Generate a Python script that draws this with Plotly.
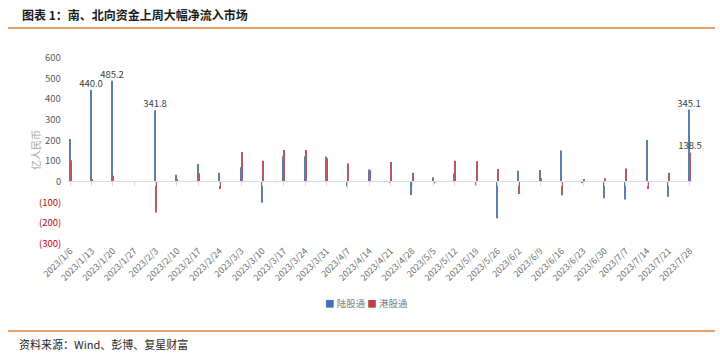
import plotly.graph_objects as go

categories = ["2023/1/6", "2023/1/13", "2023/1/20", "2023/1/27", "2023/2/3", "2023/2/10",
              "2023/2/17", "2023/2/24", "2023/3/3", "2023/3/10", "2023/3/17", "2023/3/24",
              "2023/3/31", "2023/4/7", "2023/4/14", "2023/4/21", "2023/4/28", "2023/5/5",
              "2023/5/12", "2023/5/19", "2023/5/26", "2023/6/2", "2023/6/9", "2023/6/16",
              "2023/6/23", "2023/6/30", "2023/7/7", "2023/7/14", "2023/7/21", "2023/7/28"]
northbound = [203, 440.0, 485.2, 0, 341.8, 30, 82, 40, 66, -105, 120, 120,
              118, -27, 56, -5, -68, 18, 37, -20, -180, 50, 53, 147,
              -8, -84, -90, 198, -76, 345.1]
southbound = [101, 5, 26, -3, -152, 8, 37, -39, 140, 98, 150, 150,
              110, 85, 52, 92, 40, -8, 98, 95, 58, -63, 15, -69,
              5, 13, 61, -39, 40, 138.5]
labeled_north = {"2023/1/13", "2023/1/20", "2023/2/3", "2023/7/28"}
labeled_south = {"2023/7/28"}
ytick_vals = [600, 500, 400, 300, 200, 100, 0, -100, -200, -300]
series_names = ["陆股通", "港股通"]

FONT = "Noto Sans CJK SC"
BLUE = "#5a7fa8"
RED = "#b45a62"
LEG_BLUE = "#3f6fb5"
LEG_RED = "#b8404a"

north_text = [f"{v:.1f}" if c in labeled_north else "" for c, v in zip(categories, northbound)]
south_text = [f"{v:.1f}" if c in labeled_south else "" for c, v in zip(categories, southbound)]

fig = go.Figure()
fig.add_trace(go.Bar(x=categories, y=northbound, name=series_names[0], marker_color=BLUE,
                     marker_line_width=0, text=north_text, textposition="outside",
                     textfont=dict(size=9.5, color="#404040", family=FONT),
                     cliponaxis=False, constraintext="none", showlegend=False))
fig.add_trace(go.Bar(x=categories, y=southbound, name=series_names[1], marker_color=RED,
                     marker_line_width=0, text=south_text, textposition="outside",
                     textfont=dict(size=9.5, color="#404040", family=FONT),
                     cliponaxis=False, constraintext="none", showlegend=False))
# invisible trace on the zero-line axis (tick marks)
fig.add_trace(go.Scatter(x=categories, y=[None] * len(categories), xaxis="x2",
                         showlegend=False, hoverinfo="skip"))

annotations = []
for v in ytick_vals:
    txt = f"{v:d}" if v >= 0 else f"({-v:d})"
    col = "#595959" if v >= 0 else "#c00000"
    annotations.append(dict(x=-0.008, xref="paper", y=v, yref="y", text=txt, showarrow=False,
                            xanchor="right", yanchor="middle",
                            font=dict(size=9.5, color=col, family=FONT)))
annotations.append(dict(x=-0.053, xref="paper", y=0.5, yref="paper", text="亿人民币",
                        showarrow=False, textangle=-90, xanchor="center", yanchor="middle",
                        font=dict(size=10, color="#a6a6a6", family=FONT)))
annotations.append(dict(x=-0.077, xref="paper", y=1.231, yref="paper",
                        text="<b>图表 1：南、北向资金上周大幅净流入市场</b>", showarrow=False,
                        xanchor="left", yanchor="middle",
                        font=dict(size=12, color="#1a1a1a", family=FONT)))
annotations.append(dict(x=-0.082, xref="paper", y=-0.543, yref="paper",
                        text="资料来源：Wind、彭博、复星财富", showarrow=False,
                        xanchor="left", yanchor="middle",
                        font=dict(size=11, color="#262626", family=FONT)))
# legend drawn as text
legend_text = (f"<span style='color:{LEG_BLUE}'>■</span> {series_names[0]} "
               f"<span style='color:{LEG_RED}'>■</span> {series_names[1]}")
annotations.append(dict(x=0.478, xref="paper", y=-0.325, yref="paper", text=legend_text,
                        showarrow=False, xanchor="center", yanchor="middle",
                        font=dict(size=9.5, color="#7f7f7f", family=FONT)))

shapes = [
    dict(type="line", xref="paper", yref="paper", x0=-0.096, x1=1.037, y0=1.156, y1=1.156,
         line=dict(color="#e8a06a", width=2)),
    dict(type="line", xref="paper", yref="paper", x0=-0.096, x1=1.037, y0=-0.473, y1=-0.473,
         line=dict(color="#e8a06a", width=2)),
]

fig.update_layout(
    width=720, height=355,
    margin=dict(l=68, r=28, t=57, b=112),
    paper_bgcolor="white", plot_bgcolor="white",
    barmode="group", bargap=0.9, bargroupgap=0.0,
    font=dict(family=FONT, size=9, color="#595959"),
    showlegend=False,
    xaxis=dict(type="category", range=[-0.1, len(categories) - 0.9], showline=False,
               showgrid=False, zeroline=False, ticks="", tickangle=-45,
               tickfont=dict(size=9, color="#6f6f6f", family=FONT)),
    xaxis2=dict(type="category", overlaying="x", matches="x", anchor="free", position=1 / 3,
                showline=True, linecolor="#d9d9d9", linewidth=1, ticks="outside", ticklen=4,
                tickcolor="#d9d9d9", showticklabels=False, showgrid=False, zeroline=False),
    yaxis=dict(range=[-300, 600], showgrid=False, zeroline=False, showline=False,
               showticklabels=False, tickvals=ytick_vals),
    annotations=annotations,
    shapes=shapes,
)

fig.write_html("out.html")
